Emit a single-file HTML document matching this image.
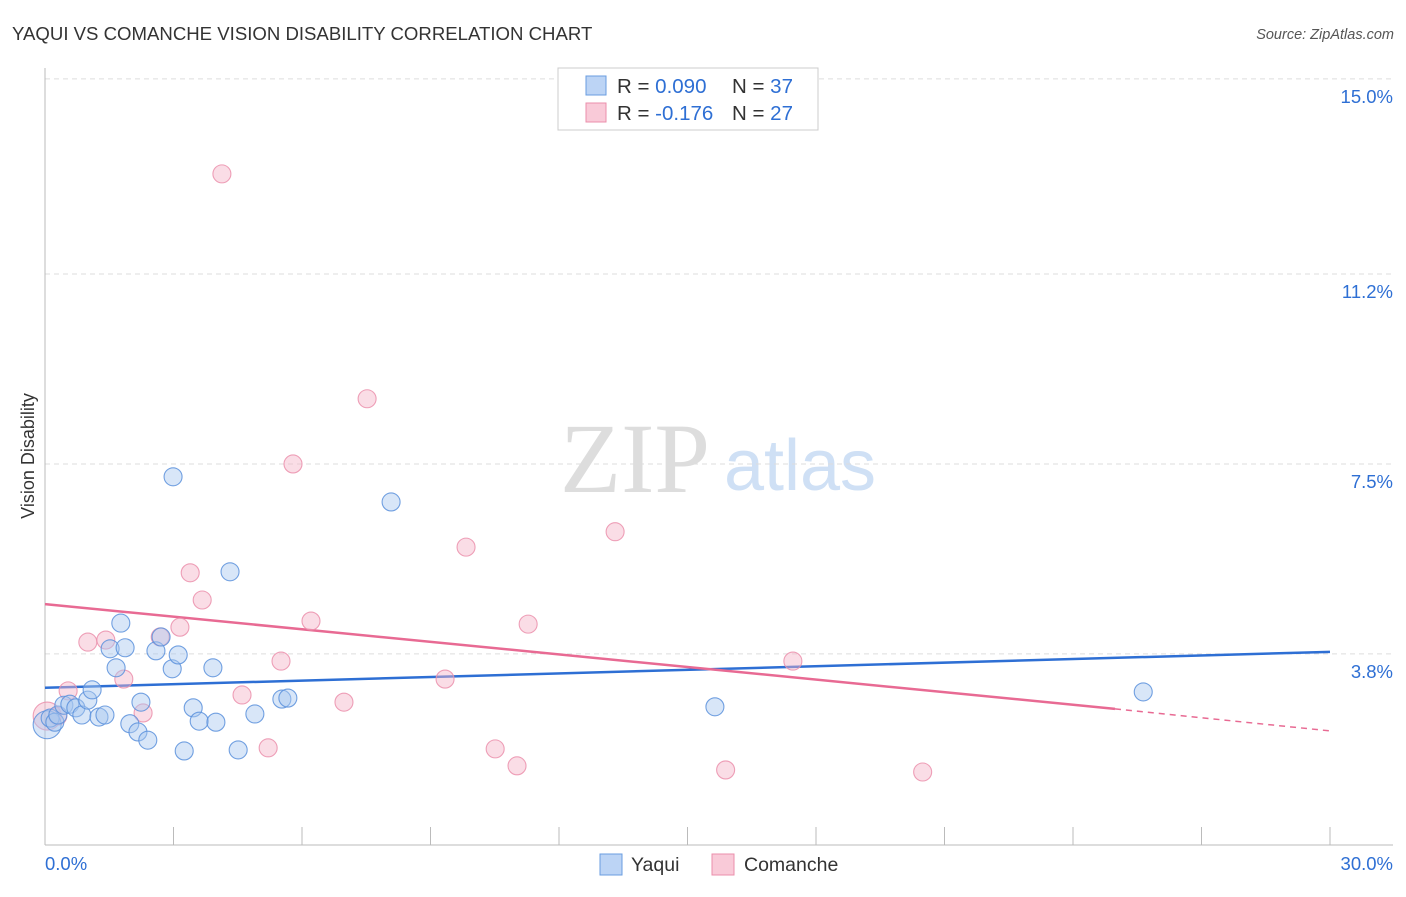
<!DOCTYPE html>
<html><head><meta charset="utf-8"><style>
body{margin:0;background:#fff;font-family:"Liberation Sans",sans-serif}
</style></head><body>
<svg id="chart" width="1406" height="892" xmlns="http://www.w3.org/2000/svg" font-family="Liberation Sans, sans-serif">
<text x="12" y="40" font-size="18.6" fill="#333">YAQUI VS COMANCHE VISION DISABILITY CORRELATION CHART</text>
<text x="1394" y="39" font-size="14.5" fill="#555" font-style="italic" text-anchor="end">Source: ZipAtlas.com</text>
<text x="34" y="456" font-size="18" fill="#333" transform="rotate(-90 34 456)" text-anchor="middle">Vision Disability</text>
<g><text x="635" y="492" font-size="100" style="font-family:'Liberation Serif',serif" fill="#ddd" text-anchor="middle">ZIP</text><text x="800" y="490" font-size="72" fill="#cfe0f5" text-anchor="middle">atlas</text></g>
<g id="grid"></g><g id="axes"></g><g id="trends"></g><g id="points"></g>
<g>
<rect x="558" y="68" width="260" height="62" fill="#fff" stroke="#ccc"/>
<rect x="586" y="76" width="20" height="19" fill="#bcd4f5" stroke="#6a9de0"/>
<rect x="586" y="103" width="20" height="19" fill="#f9cad8" stroke="#eb8fab"/>
<text x="617" y="93" font-size="20.5" fill="#333">R = <tspan fill="#2e6fd4">0.090</tspan><tspan x="732">N = </tspan><tspan fill="#2e6fd4">37</tspan></text>
<text x="617" y="120" font-size="20.5" fill="#333">R = <tspan fill="#2e6fd4">-0.176</tspan><tspan x="732">N = </tspan><tspan fill="#2e6fd4">27</tspan></text>
</g>
<g>
<rect x="600" y="854" width="22" height="21" fill="#bcd4f5" stroke="#6a9de0"/>
<text x="631" y="871" font-size="19.5" fill="#333">Yaqui</text>
<rect x="712" y="854" width="22" height="21" fill="#f9cad8" stroke="#eb8fab"/>
<text x="744" y="871" font-size="19.5" fill="#333">Comanche</text>
</g>
</svg>
<script>
const yTicks=[3.8,7.5,11.2,15.0];
const yTickLabels=["3.8%","7.5%","11.2%","15.0%"];
const xTickLabels=["0.0%","30.0%"];
const yaquiX=[0.05,0.12,0.23,0.30,0.44,0.58,0.72,0.86,1.00,1.10,1.26,1.40,1.52,1.66,1.77,1.87,1.98,2.17,2.24,2.40,2.59,2.71,2.97,2.99,3.11,3.25,3.46,3.60,3.92,3.99,4.32,4.51,4.90,5.53,5.67,8.08,15.64,25.64];
const yaquiY=[2.42,2.55,2.47,2.61,2.80,2.82,2.75,2.61,2.90,3.10,2.57,2.61,3.90,3.53,4.40,3.92,2.44,2.28,2.86,2.12,3.86,4.13,3.51,7.25,3.78,1.91,2.75,2.49,3.53,2.47,5.40,1.93,2.63,2.92,2.94,6.76,2.77,3.06];
const comX=[0.05,0.30,0.54,1.00,1.42,1.84,2.29,2.69,3.15,3.39,3.67,4.13,4.60,5.21,5.51,5.79,6.21,6.98,7.52,9.34,9.83,10.51,11.02,11.28,13.31,15.89,17.46,20.49];
const comY=[2.59,2.59,3.08,4.03,4.07,3.31,2.65,4.13,4.32,5.38,4.85,13.15,3.00,1.97,3.66,7.50,4.44,2.86,8.77,3.31,5.88,1.95,1.62,4.38,6.18,1.54,3.66,1.50];
const yaquiTrend=[3.14,3.84];
const comTrend=[4.77,2.73,2.30];
const comTrendSolidEnd=24.98;
const NS="http://www.w3.org/2000/svg";
const X=v=>45+v/30*1285, Y=v=>849-v*51.34;
function mk(tag,attrs,parent){const e=document.createElementNS(NS,tag);for(const k in attrs)e.setAttribute(k,attrs[k]);document.getElementById(parent).appendChild(e);return e;}
yTicks.forEach((t,i)=>{
 const g=mk('line',{x1:45,x2:1393,y1:Y(t),y2:Y(t),stroke:'#ddd','stroke-dasharray':'5,4'},'grid');
 
 
 const l=mk('text',{x:1393,y:Y(t)+24,'font-size':18.5,fill:'#2e6fd4','text-anchor':'end'},'grid');
 l.textContent=yTickLabels[i];
 
 
});
const ax=mk('line',{x1:45,x2:45,y1:68,y2:845,stroke:'#bbb'},'axes');


const bx=mk('line',{x1:45,x2:1393,y1:845,y2:845,stroke:'#bbb'},'axes');


for(let i=0;i<=10;i++){const t=mk('line',{x1:X(i*3),x2:X(i*3),y1:827,y2:845,stroke:'#bbb'},'axes');
 
 }
[[0,'start',45],[30,'end',1393]].forEach((d,i)=>{const t=mk('text',{x:d[2],y:870,'font-size':18.5,fill:'#2e6fd4','text-anchor':d[1]},'axes');t.textContent=xTickLabels[i];
 
 });
function pts(xs,ys,fill,stroke,name){xs.forEach((x,i)=>{const c=mk('circle',{cx:X(x),cy:Y(ys[i]),r:i===0?14:9,fill:fill,'fill-opacity':0.45,stroke:stroke,'stroke-width':1.1,'stroke-opacity':0.85},'points');
 
 });}
pts(comX,comY,'#f5b3c8','#eb8fab','comanche-point');
pts(yaquiX,yaquiY,'#a9c8f0','#5a90dc','yaqui-point');
const bt=mk('line',{x1:X(0),y1:Y(yaquiTrend[0]),x2:X(30),y2:Y(yaquiTrend[1]),stroke:'#2e6fd4','stroke-width':2.5},'trends');


const pt=mk('line',{x1:X(0),y1:Y(comTrend[0]),x2:X(comTrendSolidEnd),y2:Y(comTrend[1]),stroke:'#e86a93','stroke-width':2.5},'trends');


const pd=mk('line',{x1:X(comTrendSolidEnd),y1:Y(comTrend[1]),x2:X(30),y2:Y(comTrend[2]),stroke:'#e86a93','stroke-width':1.5,'stroke-dasharray':'6,5'},'trends');


</script>
</body></html>
